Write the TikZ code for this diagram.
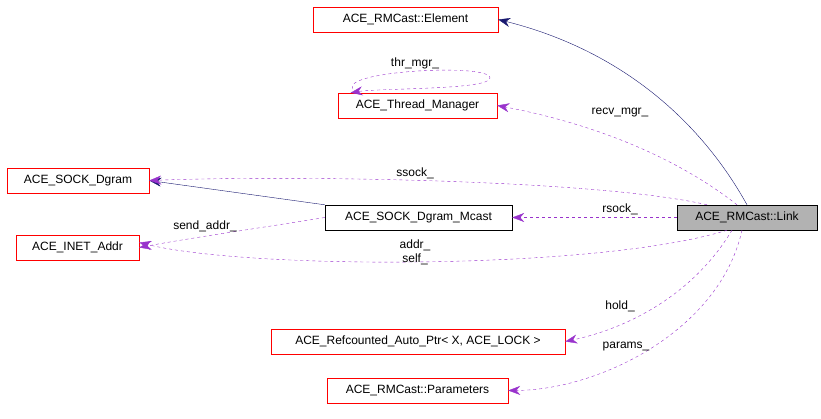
\documentclass[tikz,border=0pt]{standalone}
\usepackage{fontspec}
\setmainfont{Liberation Sans}
\usetikzlibrary{arrows.meta}
\definecolor{usecol}{RGB}{153,51,204}
\definecolor{isacol}{RGB}{25,25,112}
\begin{document}
\begin{tikzpicture}[x=1pt,y=-1pt]

    \tikzstyle{cls}=[rectangle,draw=red,fill=white,inner sep=0pt,minimum height=25pt,font=\fontsize{12}{14}\selectfont]
    \tikzstyle{uses}=[draw=usecol,dashed,-{Stealth[length=12pt,width=9pt,fill=usecol]}]
    \tikzstyle{isa}=[draw=isacol,-{Stealth[length=12pt,width=9pt]}]
    \tikzstyle{lbl}=[font=\fontsize{12}{14}\selectfont,inner sep=1pt]

    \useasboundingbox (0,0) rectangle (821,419);

    \node[cls,minimum width=185pt] (element) at (405.5,19.5) {ACE\_RMCast::Element};
    \node[cls,minimum width=159pt] (thrmgr)  at (417.5,105.5) {ACE\_Thread\_Manager};
    \node[cls,minimum width=142pt] (dgram)   at (78,180.5) {ACE\_SOCK\_Dgram};
    \node[cls,draw=black,minimum width=187pt] (mcast) at (418.5,217.5) {ACE\_SOCK\_Dgram\_Mcast};
    \node[cls,draw=black,fill=gray!60,minimum width=140pt] (link) at (747,217.5) {ACE\_RMCast::Link};
    \node[cls,minimum width=123pt] (inet)    at (77.5,247.5) {ACE\_INET\_Addr};
    \node[cls,minimum width=294pt] (refc)    at (418,341.5) {ACE\_Refcounted\_Auto\_Ptr< X, ACE\_LOCK >};
    \node[cls,minimum width=181pt] (params)  at (417.5,390.5) {ACE\_RMCast::Parameters};

    \draw[isa] (link.north) .. controls (700,120) and (620,50) .. (element.east);
    \draw[isa] (mcast.north west) -- (dgram.east);

    \draw[uses] ([xshift=-10pt]link.north) .. controls (680,160) and (600,125) .. (thrmgr.east);
    \draw[uses] ([xshift=-40pt]link.north) .. controls (600,180) and (300,175) .. (dgram.east);
    \draw[uses] (link.west) -- (mcast.east);
    \draw[uses] (mcast.west) .. controls (260,228) and (190,238) .. (inet.east);
    \draw[uses] ([xshift=-20pt]link.south) .. controls (600,270) and (250,270) .. ([yshift=5pt]inet.east);
    \draw[uses] ([xshift=-15pt]link.south) .. controls (690,300) and (620,330) .. (refc.east);
    \draw[uses] ([xshift=-5pt]link.south) .. controls (720,330) and (600,390) .. (params.east);
    \draw[uses] ([xshift=-60pt]thrmgr.north) .. controls (320,72) and (490,62) .. (490,78)
        .. controls (490,90) and (380,88) .. ([xshift=-67pt]thrmgr.north);

    \node[lbl] (lthr)  at (415,63)  {thr\_mgr\_};
    \node[lbl] (lrecv) at (620,113) {recv\_mgr\_};
    \node[lbl] (lss)   at (415,173) {ssock\_};
    \node[lbl] (lrs)   at (620,209) {rsock\_};
    \node[lbl] (lsend) at (205,226) {send\_addr\_};
    \node[lbl,align=center] (lself) at (415,252) {addr\_\\self\_};
    \node[lbl] (lhold) at (620,306) {hold\_};
    \node[lbl] (lpar)  at (626,347) {params\_};
\end{tikzpicture}
\end{document}
